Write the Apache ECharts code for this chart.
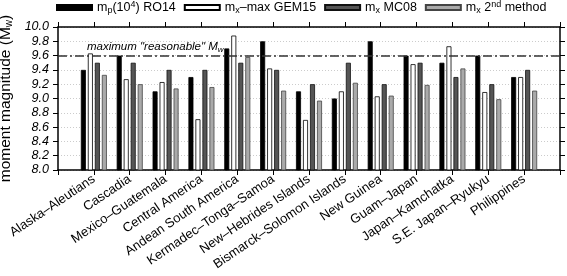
<!DOCTYPE html>
<html><head><meta charset="utf-8">
<script src="https://cdn.jsdelivr.net/npm/echarts@6/dist/echarts.min.js"></script>
<style>html,body{margin:0;padding:0;background:#fff}#c{width:567px;height:276px}</style>
</head><body><div id="c"></div>
<script>
const categories = ['Alaska–Aleutians','Cascadia','Mexico–Guatemala','Central America','Andean South America','Kermadec–Tonga–Samoa','New–Hebrides Islands','Bismarck–Solomon Islands','New Guinea','Guam–Japan','Japan–Kamchatka','S.E. Japan–Ryukyu','Philippines'];
const ro14   = [9.40, 9.60, 9.10, 9.30, 9.70, 9.80, 9.10, 9.00, 9.80, 9.60, 9.50, 9.60, 9.30];
const gem15  = [9.63, 9.27, 9.23, 8.71, 9.88, 9.42, 8.70, 9.10, 9.03, 9.48, 9.73, 9.09, 9.30];
const mc08   = [9.50, 9.50, 9.40, 9.40, 9.50, 9.40, 9.20, 9.50, 9.20, 9.50, 9.30, 9.20, 9.40];
const second = [9.33, 9.20, 9.14, 9.16, 9.58, 9.11, 8.97, 9.22, 9.04, 9.19, 9.42, 8.99, 9.11];
const yMin = 8.0, yMax = 10.0, yStep = 0.2;
const reasonableMax = 9.6;

const font = 'Liberation Sans, Arial, Helvetica, sans-serif';
const pts = arr => arr.map((v, i) => [i + 1, v]);
const subRich = {
  n: {fontSize: 12.5, fontFamily: font, color: '#000'},
  b: {fontSize: 9, fontFamily: font, color: '#000', verticalAlign: 'bottom', padding: [6, 0, 0, 0]},
  t: {fontSize: 9, fontFamily: font, color: '#000', verticalAlign: 'top', padding: [0, 0, 6, 0]}
};
const legendLabels = {
  'RO14': '{n|m}{b|p}{n|(10}{t|4}{n|) RO14}',
  'GEM15': '{n|m}{b|x}{n|–max GEM15}',
  'MC08': '{n|m}{b|x}{n| MC08}',
  '2nd': '{n|m}{b|x}{n| 2}{t|nd}{n| method}'
};
const chart = echarts.init(document.getElementById('c'), null, {renderer: 'canvas'});
const barCommon = {type: 'bar', barWidth: 5, barGap: '40%'};
chart.setOption({
  animation: false,
  grid: {left: 58, right: 7, top: 27, bottom: 106, containLabel: false, outerBoundsMode: 'none'},
  legend: {
    left: 56, right: 0, top: 0, itemWidth: 35, itemHeight: 5, itemGap: 8, icon: 'rect',
    padding: [0, 0, 0, 0],
    data: ['RO14', 'GEM15', 'MC08', '2nd'],
    formatter: name => legendLabels[name],
    textStyle: {fontSize: 12.5, fontFamily: font, color: '#000', rich: subRich}
  },
  xAxis: [{
    type: 'value', min: 0, max: 14, interval: 1, position: 'bottom',
    axisLine: {show: true, onZero: false, lineStyle: {color: '#000', width: 1.5}},
    axisTick: {show: true, length: 5, lineStyle: {color: '#000'}},
    splitLine: {show: false},
    axisLabel: {
      rotate: 34, margin: 8, fontSize: 13, fontFamily: font, color: '#000',
      formatter: v => (v >= 1 && v <= categories.length) ? categories[v - 1] : ''
    }
  }, {
    type: 'value', min: 0, max: 14, interval: 1, position: 'top',
    axisLine: {show: true, onZero: false, lineStyle: {color: '#000', width: 1.5}},
    axisTick: {show: true, length: 5, lineStyle: {color: '#000'}},
    splitLine: {show: false}, axisLabel: {show: false}
  }],
  yAxis: [{
    type: 'value', min: yMin, max: yMax, interval: yStep, position: 'left',
    name: '{n|moment magnitude (M}{b|w}{n|)}', nameLocation: 'middle', nameGap: 35,
    nameTextStyle: {rich: {
      n: {fontSize: 15.5, fontFamily: font, color: '#000'},
      b: {fontSize: 10, fontFamily: font, color: '#000', verticalAlign: 'bottom', padding: [6, 0, 0, 0]}
    }},
    axisLine: {show: true, onZero: false, lineStyle: {color: '#000', width: 1.5}},
    axisTick: {show: true, length: 5, lineStyle: {color: '#000'}},
    axisLabel: {fontSize: 12.5, fontStyle: 'italic', fontFamily: font, color: '#000', margin: 9,
      formatter: v => v.toFixed(1)},
    splitLine: {show: true, lineStyle: {color: '#ccc', type: [1, 2], width: 1}}
  }, {
    type: 'value', min: yMin, max: yMax, interval: yStep, position: 'right',
    axisLine: {show: true, onZero: false, lineStyle: {color: '#000', width: 1.5}},
    axisTick: {show: true, length: 5, lineStyle: {color: '#000'}},
    axisLabel: {show: false}, splitLine: {show: false}
  }],
  series: [
    Object.assign({}, barCommon, {
      name: 'RO14', data: pts(ro14),
      itemStyle: {color: '#000', borderColor: '#000', borderWidth: 0.8},
      markLine: {
        silent: true, symbol: 'none', animation: false,
        data: [{yAxis: reasonableMax}],
        lineStyle: {color: '#333', type: [9, 3, 2, 3], width: 1.5},
        label: {
          show: true, position: 'insideStartTop', distance: [29, 2],
          formatter: '{i|maximum "reasonable" M}{s|w}',
          rich: {
            i: {fontSize: 11.5, fontStyle: 'italic', fontFamily: font, color: '#000'},
            s: {fontSize: 8, fontStyle: 'italic', fontFamily: font, color: '#000', verticalAlign: 'bottom', padding: [5, 0, 0, 0]}
          }
        }
      }
    }),
    Object.assign({}, barCommon, {
      name: 'GEM15', data: pts(gem15),
      itemStyle: {color: '#fff', borderColor: '#000', borderWidth: 0.8}
    }),
    Object.assign({}, barCommon, {
      name: 'MC08', data: pts(mc08),
      itemStyle: {color: '#555', borderColor: '#111', borderWidth: 0.8}
    }),
    Object.assign({}, barCommon, {
      name: '2nd', data: pts(second),
      itemStyle: {color: '#aaa', borderColor: '#444', borderWidth: 0.8}
    })
  ]
});
</script></body></html>
